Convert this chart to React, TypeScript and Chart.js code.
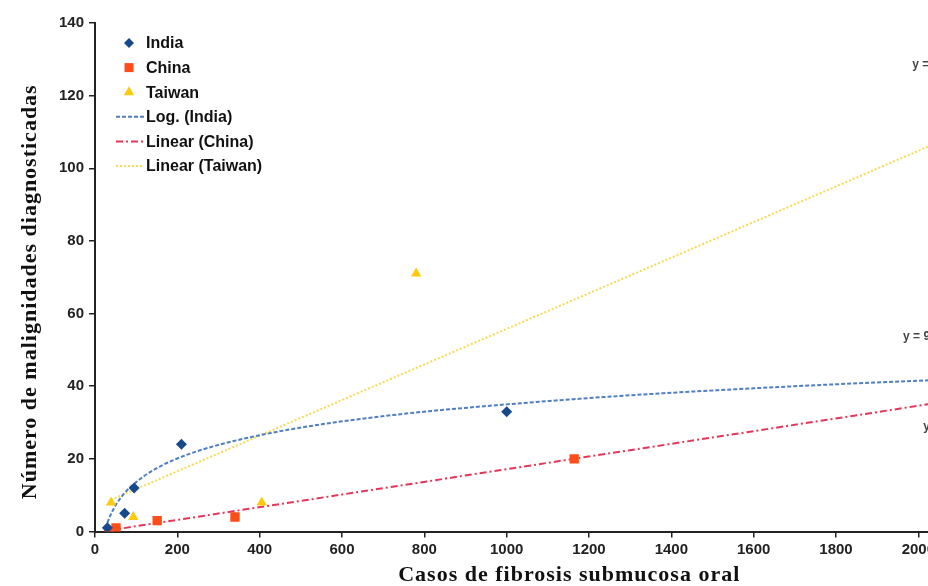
import React, { useEffect, useRef } from "react";
import { Chart, registerables } from "chart.js";

Chart.register(...registerables);

// Scatter data
const indiaX = [30, 72, 95, 210, 1000];
const indiaY = [1, 5, 12, 24, 33];
const chinaX = [34, 51, 151, 340, 1164];
const chinaY = [0, 1, 3, 4, 20];
const taiwanX = [39, 93, 405, 780];
const taiwanY = [8, 4, 8, 71];

// Trendlines
const logIndiaX = [30, 40, 55, 75, 100, 140, 200, 280, 400, 550, 750, 1000, 1300, 1700, 2000, 2400];
const logIndiaY = [2.4, 5.1, 8.1, 11.0, 13.6, 16.8, 20.1, 23.2, 26.5, 29.5, 32.4, 35.0, 37.5, 40.0, 41.5, 43.2];
const linChinaX = [34, 2400];
const linChinaY = [0.3, 41.6];
const linTaiwanX = [39, 2400];
const linTaiwanY = [8.7, 124.4];

const trendLabels = ["y = 0.049x + 6.8", "y = 9.3ln(x) - 29.2", "y = 0.0175x - 0.3"];

const legendLabels = ["India", "China", "Taiwan", "Log. (India)", "Linear (China)", "Linear (Taiwan)"];

const xTitle = "Casos de fibrosis submucosa oral";
const yTitle = "Número de malignidades diagnosticadas";

const C_INDIA = "#174A8C";
const C_CHINA = "#FF4D1A";
const C_TAIWAN = "#FFC90E";
const C_LOG = "#4F7FBF";
const C_LCHINA = "#E2375A";
const C_LTAIWAN = "#F5DA55";

const pts = (xs: number[], ys: number[]) => xs.map((x, i) => ({ x, y: ys[i] }));

function drawMarker(ctx: CanvasRenderingContext2D, kind: string, x: number, y: number, color: string) {
  ctx.save();
  ctx.fillStyle = color;
  ctx.beginPath();
  if (kind === "diamond") {
    const r = 5;
    ctx.moveTo(x, y - r);
    ctx.lineTo(x + r, y);
    ctx.lineTo(x, y + r);
    ctx.lineTo(x - r, y);
    ctx.closePath();
  } else if (kind === "square") {
    ctx.rect(x - 4.5, y - 4.5, 9, 9);
  } else {
    const r = 6;
    ctx.moveTo(x, y - r);
    ctx.lineTo(x + r * 0.866, y + r * 0.5);
    ctx.lineTo(x - r * 0.866, y + r * 0.5);
    ctx.closePath();
  }
  ctx.fill();
  ctx.restore();
}

const overlayPlugin = {
  id: "overlay",
  afterDraw(chart: any) {
    const ctx: CanvasRenderingContext2D = chart.ctx;
    const area = chart.chartArea;
    const xs = chart.scales.x;
    const ys = chart.scales.y;

    // Legend
    const markers = ["diamond", "square", "triangle"];
    const mColors = [C_INDIA, C_CHINA, C_TAIWAN];
    const lColors = [C_LOG, C_LCHINA, C_LTAIWAN];
    const lDash = [[4, 2], [7, 3, 2, 3], [2, 2]];
    ctx.save();
    ctx.font = 'bold 16px "Liberation Sans", Arial, sans-serif';
    ctx.fillStyle = "#111";
    ctx.textBaseline = "middle";
    ctx.textAlign = "left";
    for (let i = 0; i < legendLabels.length; i++) {
      const ry = area.top + 20 + i * 24.6;
      if (i < 3) {
        drawMarker(ctx, markers[i], area.left + 34, ry, mColors[i]);
      } else {
        ctx.save();
        ctx.strokeStyle = lColors[i - 3];
        ctx.lineWidth = 2;
        ctx.setLineDash(lDash[i - 3]);
        ctx.beginPath();
        ctx.moveTo(area.left + 21, ry);
        ctx.lineTo(area.left + 49, ry);
        ctx.stroke();
        ctx.restore();
      }
      ctx.fillStyle = "#111";
      ctx.fillText(legendLabels[i], area.left + 51, ry + 1);
    }
    ctx.restore();

    // Trendline equation labels
    ctx.save();
    ctx.font = 'bold 12px "Liberation Sans", Arial, sans-serif';
    ctx.fillStyle = "#444";
    ctx.textBaseline = "middle";
    ctx.textAlign = "left";
    ctx.fillText(trendLabels[0], xs.getPixelForValue(1985), ys.getPixelForValue(128.4));
    ctx.fillText(trendLabels[1], xs.getPixelForValue(1963), ys.getPixelForValue(53.5));
    ctx.fillText(trendLabels[2], xs.getPixelForValue(2012), ys.getPixelForValue(28.8));
    ctx.restore();

    // Axis titles
    ctx.save();
    ctx.font = 'bold 22px "Liberation Serif", "Times New Roman", serif';
    (ctx as any).letterSpacing = "1px";
    ctx.fillStyle = "#111";
    ctx.textAlign = "center";
    ctx.textBaseline = "middle";
    ctx.fillText(xTitle, xs.getPixelForValue(1152), 575);
    ctx.translate(30, ys.getPixelForValue(66));
    ctx.rotate(-Math.PI / 2);
    ctx.fillText(yTitle, 0, 0);
    ctx.restore();
  },
};

export default function App() {
  const ref = useRef<HTMLCanvasElement | null>(null);

  useEffect(() => {
    if (!ref.current) return;
    const tickFont = { family: '"Liberation Sans", Arial, sans-serif', size: 15, weight: "bold" as const };
    const chart = new Chart(ref.current, {
      type: "scatter",
      data: {
        datasets: [
          {
            label: "India",
            data: pts(indiaX, indiaY),
            pointStyle: "rectRot",
            pointRadius: 5.5,
            backgroundColor: C_INDIA,
            borderColor: C_INDIA,
            borderWidth: 0,
          },
          {
            label: "China",
            data: pts(chinaX, chinaY),
            pointStyle: "rect",
            pointRadius: 6.6,
            backgroundColor: C_CHINA,
            borderColor: C_CHINA,
            borderWidth: 0,
          },
          {
            label: "Taiwan",
            data: pts(taiwanX, taiwanY),
            pointStyle: "triangle",
            pointRadius: 6,
            backgroundColor: C_TAIWAN,
            borderColor: C_TAIWAN,
            borderWidth: 0,
          },
          {
            label: "Log. (India)",
            data: pts(logIndiaX, logIndiaY),
            showLine: true,
            pointRadius: 0,
            borderColor: C_LOG,
            borderWidth: 2,
            borderDash: [4, 2],
            cubicInterpolationMode: "monotone",
            fill: false,
          },
          {
            label: "Linear (China)",
            data: pts(linChinaX, linChinaY),
            showLine: true,
            pointRadius: 0,
            borderColor: C_LCHINA,
            borderWidth: 2,
            borderDash: [7, 3, 2, 3],
            fill: false,
          },
          {
            label: "Linear (Taiwan)",
            data: pts(linTaiwanX, linTaiwanY),
            showLine: true,
            pointRadius: 0,
            borderColor: C_LTAIWAN,
            borderWidth: 2,
            borderDash: [2, 2],
            fill: false,
          },
        ],
      },
      options: {
        responsive: false,
        animation: false,
        devicePixelRatio: 1,
        layout: { padding: { top: 23, right: 20, left: 0, bottom: 0 } },
        plugins: { legend: { display: false }, tooltip: { enabled: false } },
        scales: {
          x: {
            type: "linear",
            min: 0,
            max: 2400,
            ticks: {
              stepSize: 200,
              font: tickFont,
              color: "#222",
              padding: 3,
              maxRotation: 0,
              callback: (v: any) => String(v),
            },
            grid: { drawOnChartArea: false, drawTicks: true, tickLength: 6, color: "#222", lineWidth: 1.5 },
            border: { display: true, color: "#222", width: 2 },
            afterFit: (s: any) => {
              s.height = 54.5;
            },
          },
          y: {
            type: "linear",
            min: 0,
            max: 140,
            ticks: { stepSize: 20, font: tickFont, color: "#222", padding: 5, callback: (v: any) => String(v) },
            grid: { drawOnChartArea: false, drawTicks: true, tickLength: 6, color: "#222", lineWidth: 1.5 },
            border: { display: true, color: "#222", width: 2 },
            afterFit: (s: any) => {
              s.width = 95;
            },
          },
        },
      },
      plugins: [overlayPlugin],
    });
    return () => chart.destroy();
  }, []);

  return (
    <div
      style={{
        position: "fixed",
        left: 0,
        top: 0,
        width: 928,
        height: 586,
        overflow: "hidden",
        background: "#fff",
      }}
    >
      <canvas ref={ref} width={1103} height={586} style={{ display: "block" }} />
    </div>
  );
}
